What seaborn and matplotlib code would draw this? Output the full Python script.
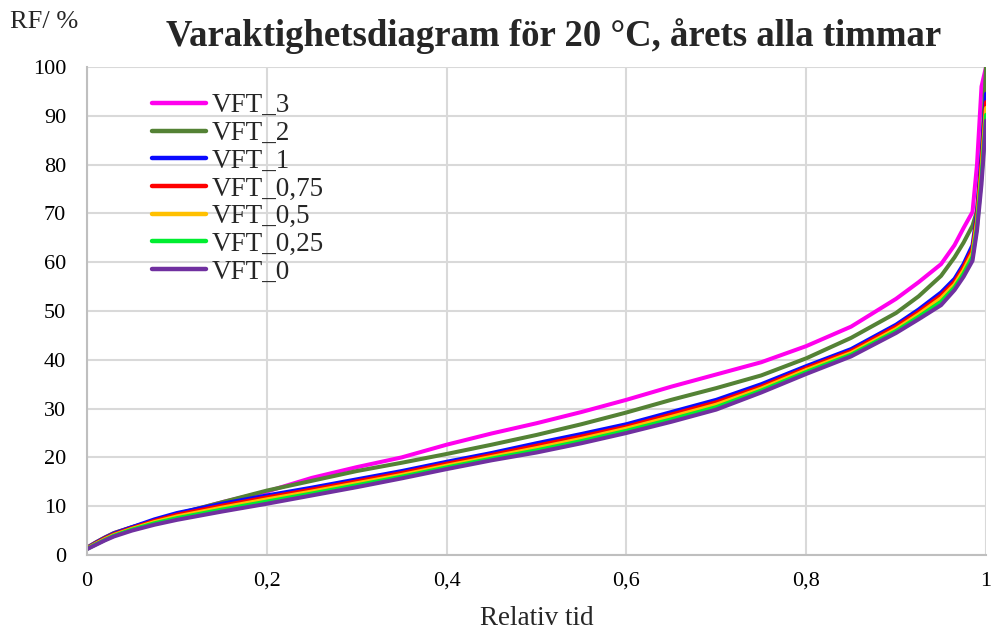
import matplotlib
matplotlib.use("Agg")
import matplotlib.pyplot as plt
import seaborn as sns
import pandas as pd

# Relative share of the year's hours (sorted duration axis)
rel_tid = [0.0, 0.01, 0.02, 0.03, 0.05, 0.075, 0.1, 0.15, 0.2, 0.25, 0.3, 0.35,
           0.4, 0.45, 0.5, 0.55, 0.6, 0.65, 0.7, 0.75, 0.8, 0.85, 0.9, 0.925,
           0.95, 0.965, 0.975, 0.985, 0.99, 0.995, 1.0]

# Relative humidity (%) exceeded for each share of time, per case
vft_3 = [1.5, 2.6, 3.6, 4.5, 5.7, 7.0, 8.3, 10.8, 13.0, 15.8, 18.0, 20.0,
         22.6, 24.9, 27.0, 29.3, 31.8, 34.5, 37.0, 39.5, 42.8, 46.8, 52.5, 55.9,
         59.6, 63.5, 67.0, 70.3, 80.0, 96.0, 100.0]
vft_2 = [1.5, 2.6, 3.6, 4.5, 5.7, 7.0, 8.4, 10.8, 13.2, 15.2, 17.2, 18.9,
         20.7, 22.6, 24.6, 26.8, 29.2, 31.8, 34.2, 36.8, 40.3, 44.5, 49.6, 53.0,
         57.2, 61.0, 64.0, 67.5, 70.5, 80.0, 100.0]
vft_1 = [1.4, 2.5, 3.5, 4.4, 5.7, 7.3, 8.6, 10.5, 12.2, 13.8, 15.5, 17.2,
         19.1, 20.9, 22.9, 24.8, 26.8, 29.3, 31.8, 35.0, 38.7, 42.2, 47.2, 50.3,
         53.8, 56.6, 59.6, 63.5, 70.0, 82.0, 94.5]
vft_075 = [1.35, 2.4, 3.4, 4.25, 5.5, 7.0, 8.25, 10.1, 11.8, 13.4, 15.1, 16.8,
           18.7, 20.5, 22.4, 24.3, 26.3, 28.8, 31.3, 34.5, 38.3, 41.8, 46.8, 49.8,
           53.2, 56.0, 59.0, 62.7, 69.1, 80.5, 92.8]
vft_05 = [1.3, 2.3, 3.25, 4.1, 5.35, 6.75, 7.9, 9.7, 11.4, 13.0, 14.7, 16.4,
          18.3, 20.1, 21.9, 23.8, 25.9, 28.3, 30.8, 34.1, 37.9, 41.4, 46.3, 49.3,
          52.6, 55.4, 58.3, 61.9, 68.2, 79.0, 91.6]
vft_025 = [1.25, 2.2, 3.1, 3.95, 5.2, 6.5, 7.55, 9.3, 10.95, 12.6, 14.3, 16.05,
           17.95, 19.75, 21.45, 23.35, 25.45, 27.8, 30.3, 33.7, 37.5, 41.05, 45.9, 48.8,
           51.9, 54.85, 57.65, 61.1, 67.3, 77.5, 90.2]
vft_0 = [1.2, 2.1, 3.0, 3.8, 5.0, 6.2, 7.2, 8.9, 10.5, 12.2, 13.9, 15.7,
         17.6, 19.4, 21.0, 22.9, 25.0, 27.3, 29.8, 33.3, 37.1, 40.7, 45.5, 48.3,
         51.2, 54.3, 57.0, 60.3, 66.5, 76.0, 89.0]

series_names = ["VFT_3", "VFT_2", "VFT_1", "VFT_0,75", "VFT_0,5", "VFT_0,25", "VFT_0"]
series_values = [vft_3, vft_2, vft_1, vft_075, vft_05, vft_025, vft_0]
series_colors = ["#ff00ee", "#548235", "#0a0aff", "#ff0000", "#ffc000", "#00ee30", "#7030a0"]

x_ticks = [0, 0.2, 0.4, 0.6, 0.8, 1.0]
x_tick_labels = ["0", "0,2", "0,4", "0,6", "0,8", "1"]
y_ticks = list(range(0, 101, 10))

frames = [pd.DataFrame({"Relativ tid": rel_tid, "RF": vals, "Serie": name})
          for name, vals in zip(series_names, series_values)]
df = pd.concat(frames, ignore_index=True)

sns.set_style("white")
plt.rcParams["font.family"] = ["Liberation Serif", "DejaVu Serif"]

fig = plt.figure(figsize=(9.92, 6.32), dpi=100)
ax = fig.add_axes([87 / 992, 1 - 555 / 632, 899 / 992, 488 / 632])

sns.lineplot(data=df, x="Relativ tid", y="RF", hue="Serie",
             hue_order=series_names, palette=series_colors,
             linewidth=2.9, ax=ax, legend=True, sort=False)

ax.set_xlim(0, 1)
ax.set_ylim(0, 100)
ax.set_xticks(x_ticks)
ax.set_xticklabels(x_tick_labels)
ax.set_yticks(y_ticks)
ax.tick_params(axis="both", length=0, labelsize=16, colors="black")
ax.tick_params(axis="x", pad=12)
ax.tick_params(axis="y", pad=15)
ax.grid(True, color="#d9d9d9", linewidth=1.5)
ax.set_axisbelow(True)
for side in ["top", "right"]:
    ax.spines[side].set_visible(False)
for side in ["left", "bottom"]:
    ax.spines[side].set_color("#bfbfbf")
    ax.spines[side].set_linewidth(1.5)

ax.set_xlabel("Relativ tid", fontsize=19.5, labelpad=11)
ax.set_ylabel("")

leg = ax.legend(loc="upper left", bbox_to_anchor=(0.072, 0.946), frameon=False,
                fontsize=19.5, handlelength=2.0, handletextpad=0.2,
                labelspacing=0.1, borderaxespad=0, borderpad=0)
for line in leg.get_lines():
    line.set_linewidth(3.2)

fig.text(554 / 992, 1 - 36 / 632, "Varaktighetsdiagram för 20 °C, årets alla timmar",
         ha="center", va="center", fontsize=26.5, fontweight="bold")
fig.text(10 / 992, 1 - 22 / 632, "RF/ %", ha="left", va="center", fontsize=19)

fig.savefig("out.png", dpi=100)
